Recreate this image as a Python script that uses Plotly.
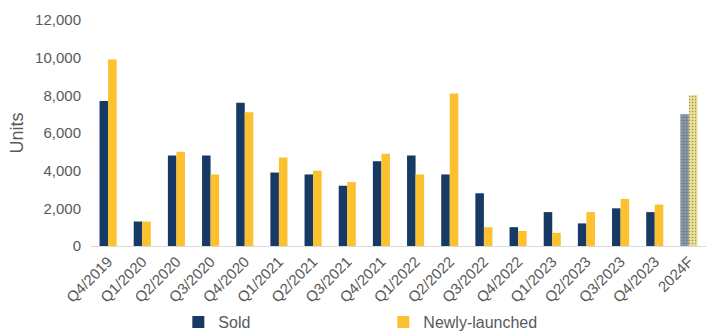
import plotly.graph_objects as go

quarters = ["Q4/2019", "Q1/2020", "Q2/2020", "Q3/2020", "Q4/2020", "Q1/2021",
            "Q2/2021", "Q3/2021", "Q4/2021", "Q1/2022", "Q2/2022", "Q3/2022",
            "Q4/2022", "Q1/2023", "Q2/2023", "Q3/2023", "Q4/2023", "2024F"]
sold = [7700, 1300, 4800, 4800, 7600, 3900, 3800, 3200, 4500, 4800, 3800, 2800,
        1000, 1800, 1200, 2000, 1800, 7000]
newly_launched = [9900, 1300, 5000, 3800, 7100, 4700, 4000, 3400, 4900, 3800, 8100,
                  1000, 800, 700, 1800, 2500, 2200, 8000]
y_ticks = [0, 2000, 4000, 6000, 8000, 10000, 12000]

NAVY = "#173a64"
GOLD = "#fbc12e"
# forecast year is shown in muted, textured tones
sold_colors = [NAVY] * (len(quarters) - 1) + ["#8796a6"]
new_colors = [GOLD] * (len(quarters) - 1) + ["#ebe08e"]
patterns = [""] * (len(quarters) - 1) + ["."]

FONT = "Liberation Sans, Arial, sans-serif"
GREY = "#595959"

fig = go.Figure()
fig.add_trace(go.Bar(
    x=quarters, y=sold, name="Sold",
    marker=dict(color=sold_colors, line_width=0,
                pattern=dict(shape=patterns, fgcolor="#b8c1cb", size=3, solidity=0.2)),
))
fig.add_trace(go.Bar(
    x=quarters, y=newly_launched, name="Newly-launched",
    marker=dict(color=new_colors, line_width=0,
                pattern=dict(shape=patterns, fgcolor="#f6f0c8", size=3, solidity=0.2)),
))

fig.update_layout(
    width=706, height=334,
    margin=dict(l=91, r=0, t=20, b=88),
    paper_bgcolor="white", plot_bgcolor="white",
    barmode="group", bargap=0.5, bargroupgap=0,
    font=dict(family=FONT, size=14, color=GREY),
    showlegend=True,
    legend=dict(orientation="h", x=0.142, xanchor="left",
                y=0.036, yref="container", yanchor="middle",
                font=dict(size=16, color=GREY), entrywidth=160, entrywidthmode="pixels",
                bgcolor="rgba(0,0,0,0)"),
)
fig.update_xaxes(
    type="category", range=[-0.5, 17.5], automargin=False,
    tickangle=-45, tickfont=dict(size=15, color=GREY),
    showline=True, linecolor="#d9d9d9", linewidth=1,
    showgrid=False, ticks="",
)
fig.update_yaxes(
    range=[0, 12000], tickvals=y_ticks, tickformat=",d",
    tickfont=dict(size=15, color=GREY), ticklabelstandoff=9,
    title=dict(text="Units", font=dict(size=18, color=GREY), standoff=6),
    showgrid=False, zeroline=False, showline=False, ticks="",
)

fig.write_html("out.html")
